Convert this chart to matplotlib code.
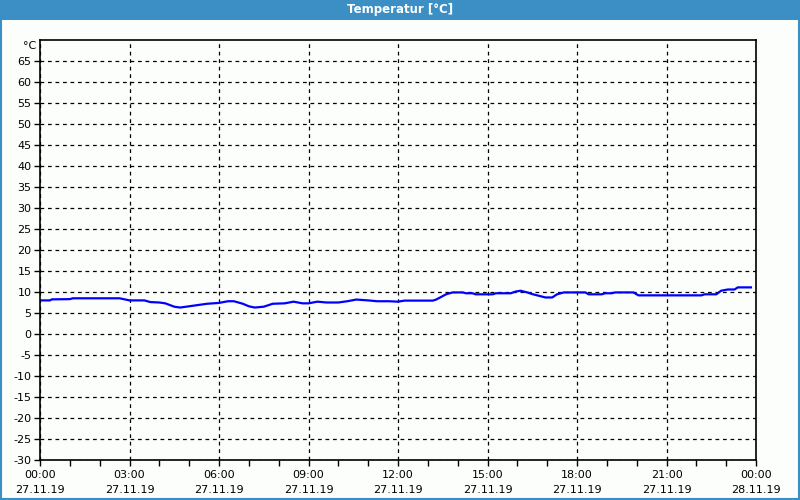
import matplotlib
matplotlib.use("Agg")
import matplotlib.pyplot as plt
from matplotlib.patches import Rectangle

# measured temperature, hours since 27.11.19 00:00
hours = [0.0, 0.33, 0.4, 1.0, 1.1, 2.67, 3.0, 3.5, 3.7, 4.0, 4.2, 4.5, 4.7, 5.0,
         5.3, 5.6, 6.0, 6.3, 6.5, 6.8, 7.0, 7.2, 7.5, 7.8, 8.2, 8.5, 8.8, 9.0,
         9.3, 9.6, 10.0, 10.3, 10.6, 11.0, 11.3, 11.7,
         12.0, 12.22, 13.17, 13.28, 13.44, 13.61, 13.83, 14.17, 14.28, 14.5,
         14.6, 15.17, 15.28, 15.78, 15.94, 16.11, 16.33, 16.5, 16.72, 16.94,
         17.17, 17.33, 17.56, 18.28, 18.39, 18.83, 18.94, 19.17, 19.28, 19.89,
         20.06, 22.17, 22.28, 22.67, 22.83, 23.06, 23.28, 23.39, 23.83]
temps = [8.0, 8.0, 8.25, 8.3, 8.5, 8.5, 8.0, 8.0, 7.6, 7.5, 7.3, 6.5, 6.3, 6.6,
         6.9, 7.2, 7.4, 7.8, 7.8, 7.2, 6.6, 6.3, 6.5, 7.2, 7.3, 7.7, 7.3, 7.3,
         7.7, 7.5, 7.5, 7.8, 8.2, 8.0, 7.8, 7.8,
         7.7, 7.95, 7.95, 8.2, 8.8, 9.45, 9.9, 9.9, 9.7, 9.7,
         9.45, 9.45, 9.7, 9.7, 10.1, 10.3, 9.9, 9.5, 9.1, 8.7,
         8.7, 9.45, 9.9, 9.9, 9.45, 9.45, 9.7, 9.7, 9.9, 9.9,
         9.2, 9.2, 9.45, 9.45, 10.3, 10.6, 10.6, 11.1, 11.1]

xticks = [0, 3, 6, 9, 12, 15, 18, 21, 24]
xlabels = ["00:00\n27.11.19", "03:00\n27.11.19", "06:00\n27.11.19",
           "09:00\n27.11.19", "12:00\n27.11.19", "15:00\n27.11.19",
           "18:00\n27.11.19", "21:00\n27.11.19", "00:00\n28.11.19"]
yticks = list(range(-30, 70, 5))

blue_bar = "#3b8fc4"

fig = plt.figure(figsize=(8, 5), dpi=100)
fig.patch.set_facecolor("#fcfefc")

# title bar and window border
fig.patches.append(Rectangle((0, 0.96), 1, 0.04, transform=fig.transFigure,
                             facecolor=blue_bar, edgecolor="none"))
fig.patches.append(Rectangle((0.001, 0.002), 0.998, 0.996, transform=fig.transFigure,
                             facecolor="none", edgecolor=blue_bar, lw=1.5))
fig.text(0.5, 0.981, "Temperatur [°C]", color="white", fontsize=8.5,
         fontweight="bold", ha="center", va="center")

ax = fig.add_axes([0.05, 0.08, 0.895, 0.84])
ax.set_facecolor("#fcfefc")
ax.plot(hours, temps, color="#0000ff", lw=1.6)

ax.set_xlim(0, 24)
ax.set_ylim(-30, 70)
ax.set_xticks(xticks)
ax.set_xticklabels(xlabels, fontsize=8, linespacing=1.65)
ax.set_xticks(range(0, 25), minor=True)
ax.set_yticks(yticks)
ax.set_yticklabels([str(v) for v in yticks], fontsize=8)
ax.tick_params(axis="both", which="both", direction="out", length=4, width=1, color="black")
ax.tick_params(axis="x", pad=3)
ax.tick_params(axis="y", pad=2)

ax.grid(True, which="major", color="black", linestyle=(0, (3, 3)), lw=0.9)
for s in ax.spines.values():
    s.set_color("black")
    s.set_linewidth(1.2)

fig.text(0.045, 0.908, "°C", fontsize=8, ha="right", va="center")

fig.savefig("out.png", dpi=100, facecolor=fig.get_facecolor())
